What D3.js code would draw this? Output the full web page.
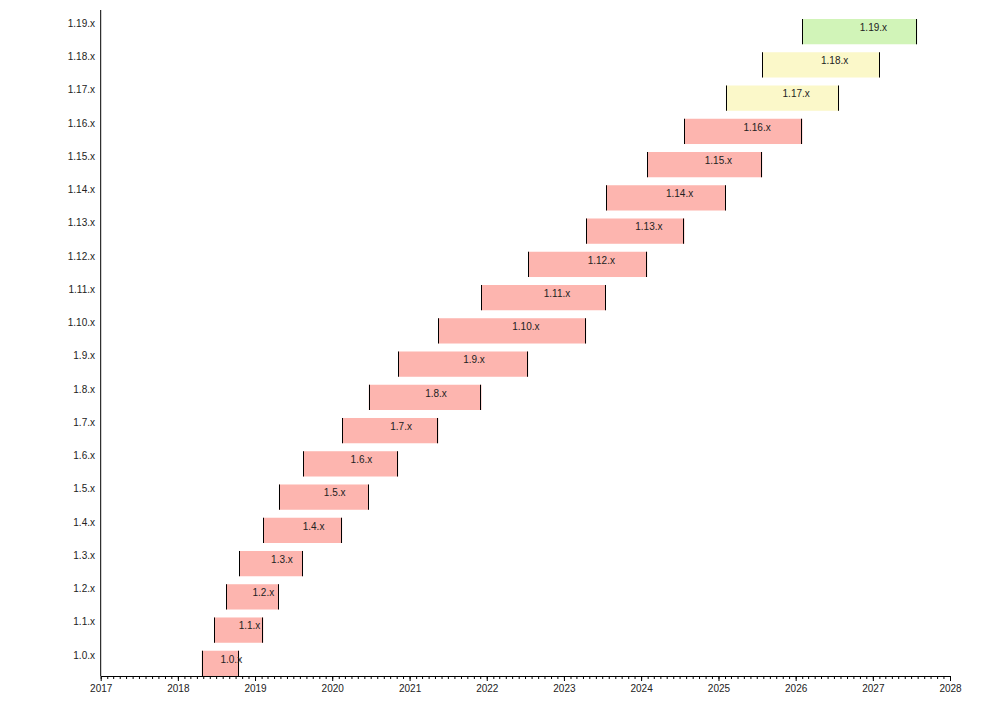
<!DOCTYPE html>
<html>
<head>
<meta charset="utf-8">
<script src="https://cdn.jsdelivr.net/npm/d3@7"></script>
<style>
  html, body { margin: 0; padding: 0; background: #fff; }
  svg { display: block; font-family: "Liberation Sans", Arial, Helvetica, sans-serif; }
</style>
</head>
<body>
<svg id="chart" width="1000" height="705"></svg>
<script>
// ---- data ----
const versions = ["1.0.x","1.1.x","1.2.x","1.3.x","1.4.x","1.5.x","1.6.x","1.7.x","1.8.x","1.9.x",
                  "1.10.x","1.11.x","1.12.x","1.13.x","1.14.x","1.15.x","1.16.x","1.17.x","1.18.x","1.19.x"];
const startDates = ["2018-04-24","2018-06-21","2018-08-17","2018-10-18","2019-02-09","2019-04-24",
                    "2019-08-16","2020-02-17","2020-06-22","2020-11-08","2021-05-17","2021-12-07",
                    "2022-07-16","2023-04-16","2023-07-19","2024-01-30","2024-07-24","2025-02-05",
                    "2025-07-27","2026-02-02"];
const endDates   = ["2018-10-18","2019-02-09","2019-04-24","2019-08-16","2020-02-17","2020-06-22",
                    "2020-11-08","2021-05-17","2021-12-07","2022-07-16","2023-04-16","2023-07-19",
                    "2024-01-30","2024-07-24","2025-02-05","2025-07-27","2026-02-02","2026-07-26",
                    "2027-02-03","2027-07-30"];
const statuses   = ["eol","eol","eol","eol","eol","eol","eol","eol","eol","eol",
                    "eol","eol","eol","eol","eol","eol","eol","maintained","maintained","current"];
const xDomain = ["2017-01-01","2028-01-01"];
const statusColors = { eol: "#fdb5af", maintained: "#fbf8c9", current: "#d1f4b8" };

// ---- build ----
const parse = d3.timeParse("%Y-%m-%d");
const rows = versions.map((v, i) => ({
  version: v, start: parse(startDates[i]), end: parse(endDates[i]), status: statuses[i]
}));

const svg = d3.select("#chart");
const x0 = 100.7, x1 = 950, yTop = 10, yBottom = 676;

const x = d3.scaleTime().domain(xDomain.map(parse)).range([x0, x1]);
const y = d3.scaleBand().domain(versions.slice().reverse()).range([19, yBottom])
  .paddingInner(0.24).paddingOuter(0);

// bars
const g = svg.append("g");
const bar = g.selectAll("g.bar").data(rows).enter().append("g").attr("class", "bar");
bar.append("rect")
  .attr("x", d => x(d.start))
  .attr("y", d => y(d.version))
  .attr("width", d => x(d.end) - x(d.start))
  .attr("height", y.bandwidth())
  .attr("fill", d => statusColors[d.status]);
bar.append("line")
  .attr("x1", d => Math.round(x(d.start)) + 0.5).attr("x2", d => Math.round(x(d.start)) + 0.5)
  .attr("y1", d => y(d.version)).attr("y2", d => y(d.version) + y.bandwidth())
  .attr("stroke", "#000").attr("stroke-width", 1);
bar.append("line")
  .attr("x1", d => Math.round(x(d.end)) - 0.5).attr("x2", d => Math.round(x(d.end)) - 0.5)
  .attr("y1", d => y(d.version)).attr("y2", d => y(d.version) + y.bandwidth())
  .attr("stroke", "#000").attr("stroke-width", 1);
bar.append("text")
  .attr("x", d => (x(d.start) + x(d.end)) / 2)
  .attr("y", d => y(d.version) + 8.5)
  .attr("dy", "0.35em")
  .attr("font-size", 10)
  .attr("fill", "#222")
  .text(d => d.version);

// y axis
svg.append("line").attr("x1", x0).attr("x2", x0).attr("y1", yTop).attr("y2", yBottom)
  .attr("stroke", "#000").attr("stroke-width", 1);
svg.append("g").selectAll("text").data(versions).enter().append("text")
  .attr("x", 95)
  .attr("y", d => y(d) + 4.5)
  .attr("dy", "0.35em")
  .attr("text-anchor", "end")
  .attr("font-size", 10)
  .attr("fill", "#222")
  .text(d => d);

// x axis: minor (monthly) ticks
const minor = svg.append("g").attr("transform", `translate(0,${yBottom})`)
  .call(d3.axisBottom(x).ticks(d3.timeMonth.every(1)).tickSize(3).tickSizeOuter(0).tickFormat(""));
minor.select(".domain").remove();
// x axis: major (yearly) ticks
const major = svg.append("g").attr("transform", `translate(0,${yBottom})`)
  .call(d3.axisBottom(x).ticks(d3.timeYear.every(1)).tickSize(5).tickSizeOuter(0)
        .tickPadding(4).tickFormat(d3.timeFormat("%Y")));
major.selectAll("text").attr("font-size", 10).attr("fill", "#222").attr("font-family", null);
svg.selectAll(".tick line").attr("stroke", "#000");
major.select(".domain").attr("stroke", "#000");
</script>
</body>
</html>
